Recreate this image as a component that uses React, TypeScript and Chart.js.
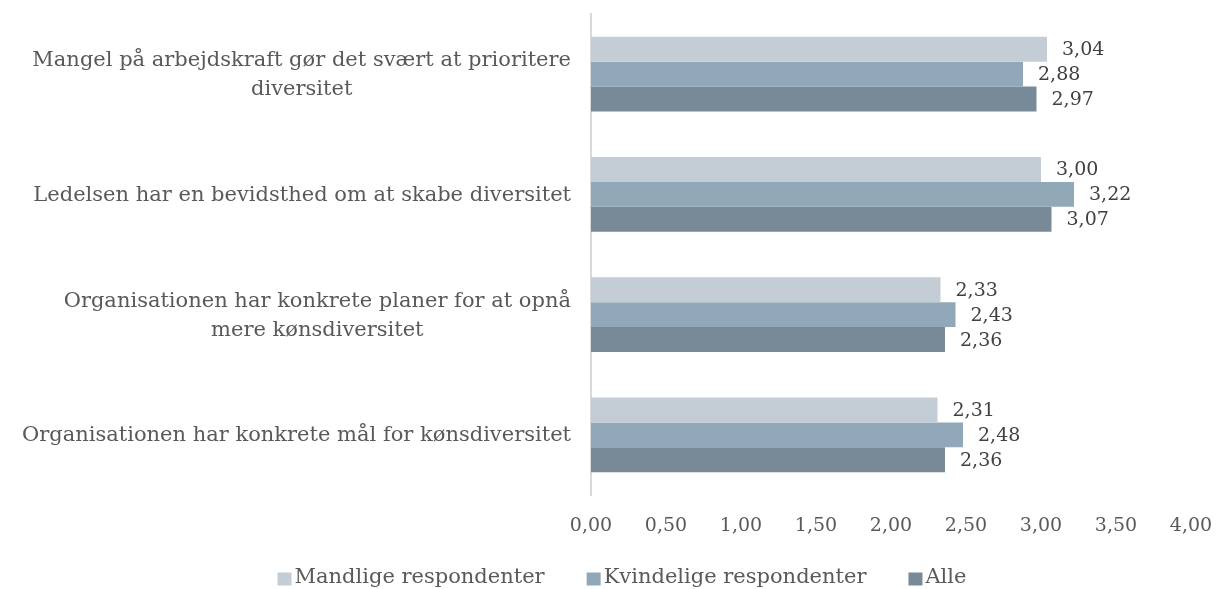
import React, { useEffect, useRef } from "react";
import { Chart, registerables } from "chart.js";

Chart.register(...registerables);

const categories: string[][] = [
  ["Mangel på arbejdskraft gør det svært at prioritere", "diversitet"],
  ["Ledelsen har en bevidsthed om at skabe diversitet"],
  ["Organisationen har konkrete planer for at opnå", "mere kønsdiversitet"],
  ["Organisationen har konkrete mål for kønsdiversitet"],
];
const seriesNames = ["Mandlige respondenter", "Kvindelige respondenter", "Alle"];
const mandlige = [3.04, 3.0, 2.33, 2.31];
const kvindelige = [2.88, 3.22, 2.43, 2.48];
const alle = [2.97, 3.07, 2.36, 2.36];
const colors = ["#C4CDD5", "#91A8B8", "#788A97"];

const FONT = "'DejaVu Serif', serif";
const TEXT = "#595959";

const fmt = (v: number) => v.toFixed(2).replace(".", ",");

const valueLabels = {
  id: "valueLabels",
  afterDatasetsDraw(chart: any) {
    const ctx = chart.ctx;
    ctx.save();
    ctx.font = `19px ${FONT}`;
    ctx.fillStyle = "#404040";
    ctx.textAlign = "left";
    ctx.textBaseline = "middle";
    chart.data.datasets.forEach((ds: any, i: number) => {
      const meta = chart.getDatasetMeta(i);
      meta.data.forEach((el: any, j: number) => {
        ctx.fillText(fmt(ds.data[j]), el.x + 15, el.y + 1);
      });
    });
    ctx.restore();
  },
};

const categoryLabels = {
  id: "categoryLabels",
  afterDraw(chart: any) {
    const ctx = chart.ctx;
    const y = chart.scales.y;
    ctx.save();
    ctx.font = `21px ${FONT}`;
    ctx.fillStyle = TEXT;
    ctx.textAlign = "center";
    ctx.textBaseline = "middle";
    const right = chart.chartArea.left - 20;
    const lh = 29;
    categories.forEach((lines, i) => {
      const w = Math.max(...lines.map((l) => ctx.measureText(l).width));
      const cx = right - w / 2;
      const cy = y.getPixelForValue(i) + 1;
      const y0 = cy - ((lines.length - 1) * lh) / 2;
      lines.forEach((l, k) => ctx.fillText(l, cx, y0 + k * lh));
    });
    ctx.restore();
  },
};

const customLegend = {
  id: "customLegend",
  afterDraw(chart: any) {
    const ctx = chart.ctx;
    ctx.save();
    ctx.font = `21px ${FONT}`;
    const box = 14;
    const gapText = 3;
    const gapItem = 42;
    const widths = seriesNames.map((s) => ctx.measureText(s).width);
    const total =
      widths.reduce((a, b) => a + b, 0) +
      seriesNames.length * (box + gapText) +
      (seriesNames.length - 1) * gapItem;
    let x = 622 - total / 2;
    const cy = 579;
    seriesNames.forEach((s, i) => {
      ctx.fillStyle = colors[i];
      ctx.fillRect(x, cy - 6.5, box, 13);
      x += box + gapText;
      ctx.fillStyle = TEXT;
      ctx.textAlign = "left";
      ctx.textBaseline = "middle";
      ctx.fillText(s, x, cy - 1);
      x += widths[i] + gapItem;
    });
    ctx.restore();
  },
};

export default function App() {
  const ref = useRef<HTMLCanvasElement>(null);
  useEffect(() => {
    document.body.style.margin = "0";
    const chart = new Chart(ref.current!, {
      type: "bar",
      data: {
        labels: categories.map((c) => c.join(" ")),
        datasets: [mandlige, kvindelige, alle].map((d, i) => ({
          label: seriesNames[i],
          data: d,
          backgroundColor: colors[i],
          barPercentage: 1,
          categoryPercentage: 0.623,
        })),
      },
      options: {
        indexAxis: "y",
        animation: false,
        responsive: false,
        maintainAspectRatio: false,
        layout: { padding: { top: 14, right: 30, bottom: 43, left: 0 } },
        scales: {
          x: {
            min: 0,
            max: 4,
            afterFit: (s: any) => {
              s.height = 51;
              s.paddingRight = 0;
            },
            ticks: {
              stepSize: 0.5,
              padding: 20,
              color: TEXT,
              font: { family: FONT, size: 19 },
              callback: (v: any) => fmt(Number(v)),
            },
            grid: { display: false, drawTicks: false },
            border: { display: false },
          },
          y: {
            afterFit: (s: any) => {
              s.width = 591;
            },
            ticks: { display: false },
            grid: { display: false, drawTicks: false },
            border: { display: true, color: "#D9D9D9", width: 2 },
          },
        },
        plugins: {
          legend: { display: false },
          tooltip: { enabled: false },
        },
      },
      plugins: [valueLabels, categoryLabels, customLegend],
    });
    return () => chart.destroy();
  }, []);
  return (
    <div style={{ width: 1221, height: 589 }}>
      <canvas ref={ref} width={1221} height={589} />
    </div>
  );
}
